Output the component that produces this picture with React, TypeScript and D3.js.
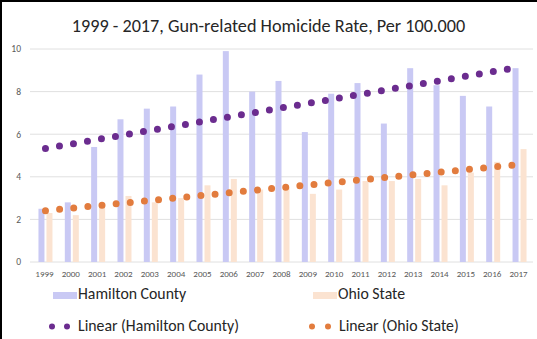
import React from "react";
import * as d3 from "d3";

const years = ["1999","2000","2001","2002","2003","2004","2005","2006","2007","2008","2009","2010","2011","2012","2013","2014","2015","2016","2017"];
const hamilton = [2.5,2.8,5.4,6.7,7.2,7.3,8.8,9.9,8.0,8.5,6.1,7.9,8.4,6.5,9.1,8.3,7.8,7.3,9.1];
const ohio = [2.3,2.2,2.7,3.1,2.8,3.0,3.6,3.9,3.4,3.5,3.2,3.4,3.8,3.8,3.9,3.6,4.2,4.7,5.3];
const yTicks = [0,2,4,6,8,10];
const title = "1999 - 2017, Gun-related Homicide Rate, Per 100.000";

const W = 537, H = 339;
const FONT = "Carlito, Lato, 'Open Sans', sans-serif";
const C = {
  ham: "#C9C9F4",
  ohio: "#FBE3D1",
  hamTrend: "#6B2C8F",
  ohioTrend: "#E27C3E",
  grid: "#E0E0E0",
  text: "#595959",
  title: "#262626",
};

// least-squares fit over category index
function linearFit(vals: number[]) {
  const n = vals.length;
  const mx = d3.mean(d3.range(n))!;
  const my = d3.mean(vals)!;
  let sxy = 0, sxx = 0;
  vals.forEach((v, i) => { sxy += (i - mx) * (v - my); sxx += (i - mx) ** 2; });
  const slope = sxy / sxx;
  return (i: number) => my + slope * (i - mx);
}

export default function App() {
  const x = d3.scaleBand<string>().domain(years).range([32.3, 532.7]).padding(0);
  const y = d3.scaleLinear().domain([0, 10]).range([262, 49]);
  const cx = (yr: string) => x(yr)! + x.bandwidth() / 2;
  const barW = 6;

  const trend = (vals: number[]) => {
    const f = linearFit(vals);
    const last = years.length - 1;
    return d3.line<number>()
      .x((i) => cx(years[i]))
      .y((i) => y(f(i)))([0, last])!;
  };

  return (
    <svg width={W} height={H} style={{ position: "absolute", left: 0, top: 0, background: "#fff" }} fontFamily={FONT}>
      <rect x={0} y={0} width={W} height={H} fill="#fff" />
      {/* frame */}
      <rect x={0} y={0} width={W} height={2} fill="#000" />
      <rect x={0} y={0} width={2} height={H} fill="#000" />

      <text x={268.5} y={32} textAnchor="middle" fontSize={18.2} fill={C.title}>{title}</text>

      {yTicks.map((t) => (
        <g key={t}>
          <line x1={30} x2={533} y1={y(t)} y2={y(t)} stroke={C.grid} strokeWidth={1} />
          <text x={21} y={y(t) + 3.3} textAnchor="end" fontSize={9.5} fill={C.text}>{t}</text>
        </g>
      ))}

      {years.map((yr, i) => (
        <g key={yr}>
          <rect x={cx(yr) - 7} y={y(hamilton[i])} width={barW} height={y(0) - y(hamilton[i])} fill={C.ham} />
          <rect x={cx(yr) + 1} y={y(ohio[i])} width={barW} height={y(0) - y(ohio[i])} fill={C.ohio} />
          <text x={cx(yr) - 1} y={277} textAnchor="middle" fontSize={9} fill={C.text}>{yr}</text>
        </g>
      ))}

      <path d={trend(hamilton)} stroke={C.hamTrend} strokeWidth={7} strokeDasharray="0 14.2" strokeLinecap="round" fill="none" />
      <path d={trend(ohio)} stroke={C.ohioTrend} strokeWidth={7} strokeDasharray="0 14.2" strokeLinecap="round" fill="none" />

      {/* legend */}
      <rect x={53} y={292} width={24} height={7} fill={C.ham} />
      <text x={78} y={299} fontSize={15.8} fill={C.title}>Hamilton County</text>
      <rect x={313} y={292} width={24} height={7} fill={C.ohio} />
      <text x={338} y={299} fontSize={15.8} fill={C.title}>Ohio State</text>

      <circle cx={52} cy={326.5} r={3} fill={C.hamTrend} />
      <circle cx={67} cy={326.5} r={3} fill={C.hamTrend} />
      <text x={78} y={331} fontSize={15.8} fill={C.title}>Linear (Hamilton County)</text>
      <circle cx={312} cy={326.5} r={3} fill={C.ohioTrend} />
      <circle cx={328} cy={326.5} r={3} fill={C.ohioTrend} />
      <text x={339} y={331} fontSize={15.8} fill={C.title}>Linear (Ohio State)</text>
    </svg>
  );
}
